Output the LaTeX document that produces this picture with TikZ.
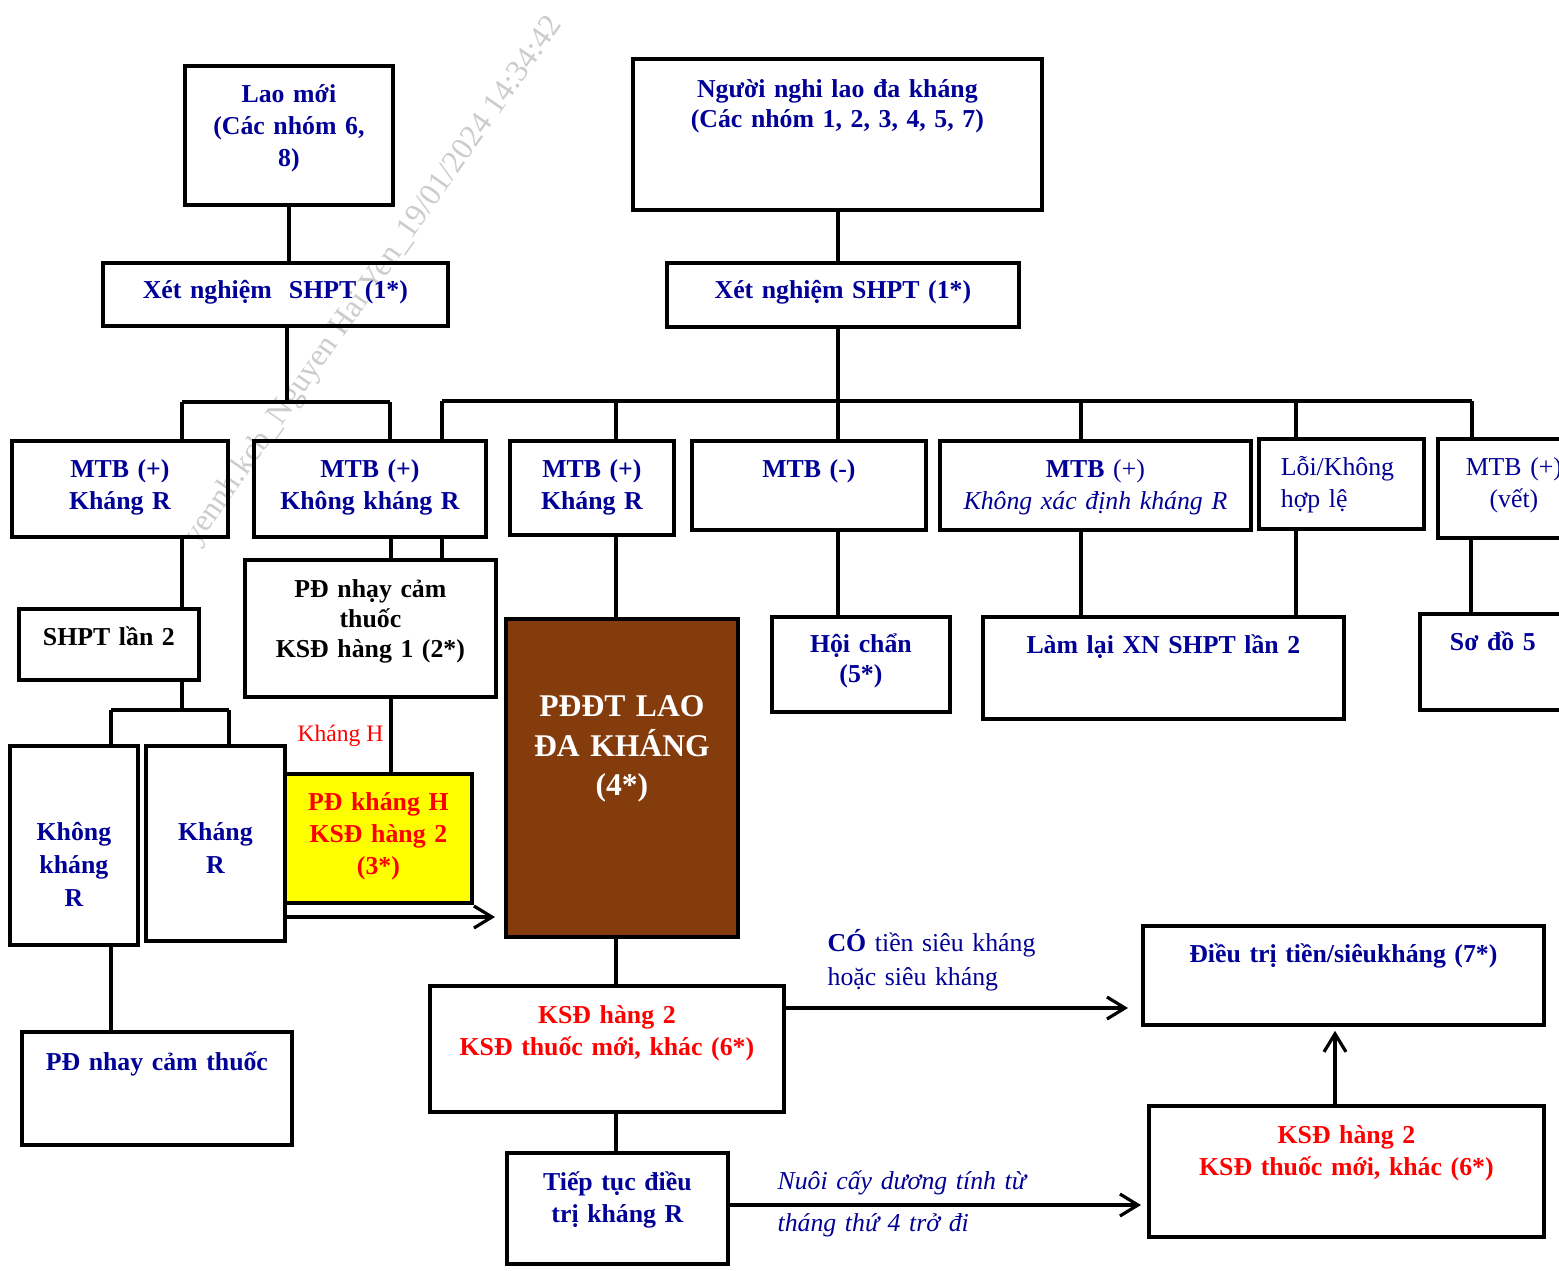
\documentclass[tikz,border=0pt]{standalone}
\usepackage{fontspec}
\setmainfont{Liberation Serif}
\usetikzlibrary{arrows.meta}
\definecolor{lhblue}{RGB}{0,0,150}
\definecolor{lhred}{RGB}{255,0,0}
\definecolor{lhbrown}{RGB}{132,60,12}
\definecolor{lhyellow}{RGB}{255,255,0}

\begin{document}
\begin{tikzpicture}[x=0.5pt, y=-0.5pt, line width=1.6pt, >={Straight Barb[length=9pt, width=11pt]}, box/.style={draw, line width=1.9pt, inner sep=0pt, anchor=north west, align=center, text=lhblue, font=\fontsize{12.9}{15.8}\selectfont\bfseries}, boxsize/.style n args={3}{text width=#1, text height=#2, text depth=#3}, note/.style={inner sep=0pt, anchor=base west, align=left, text=lhblue}]
	\useasboundingbox (0,0) rectangle (1559,1270);
	\node[text=black!20, rotate=55, font=\fontsize{15.8}{16}\selectfont] (wm) at (374,281) {yennh.kcb\_Nguyen Hai Yen\_19/01/2024 14:34:42};

	\node[box, boxsize={104pt}{18.5pt}{51pt}] (lao) at (183,64) {Lao mới\\(Các nhóm 6,\\8)};
	\node[box, boxsize={204.5pt}{19.5pt}{56pt}, font=\fontsize{12.9}{15}\selectfont\bfseries] (nghi) at (631,57) {Người nghi lao đa kháng\\(Các nhóm 1, 2, 3, 4, 5, 7)};
	\node[box, boxsize={172.5pt}{18pt}{13.5pt}] (xetL) at (101,261) {Xét nghiệm~ SHPT (1*)};
	\node[box, boxsize={176pt}{18pt}{14pt}] (xetR) at (665,261) {Xét nghiệm SHPT (1*)};
	\node[box, boxsize={108pt}{18.5pt}{29.5pt}] (mtbA) at (10,439) {MTB (+)\\Kháng R};
	\node[box, boxsize={116pt}{18.5pt}{29.5pt}] (mtbB) at (252,439) {MTB (+)\\Không kháng R};
	\node[box, boxsize={82pt}{18.5pt}{28.5pt}] (mtbC) at (508,439) {MTB (+)\\Kháng R};
	\node[box, boxsize={117pt}{18.5pt}{26pt}] (mtbN) at (690,439) {MTB (-)};
	\node[box, boxsize={155.5pt}{18.5pt}{26pt}] (mtbX) at (938,439) {MTB \mdseries(+)\\\itshape Không xác định kháng R};
	\node[box, boxsize={82.5pt}{18.5pt}{26.5pt}, align=left, font=\fontsize{12.9}{15.8}\selectfont] (loi) at (1257,437) {\hspace*{11pt}Lỗi/Không\\\hspace*{11pt}hợp lệ};
	\node[box, boxsize={76pt}{18.5pt}{31pt}, font=\fontsize{12.9}{15.8}\selectfont] (mtbV) at (1436,437) {MTB (+)\\(vết)};
	\node[box, boxsize={90pt}{18.5pt}{17pt}, text=black] (shpt2) at (17,607) {SHPT lần 2};
	\node[box, boxsize={125.5pt}{19pt}{49.5pt}, text=black, font=\fontsize{12.9}{15}\selectfont\bfseries] (pdnc) at (243,558) {PĐ nhạy cảm\\thuốc\\KSĐ hàng 1 (2*)};
	\node[box, boxsize={93.5pt}{18.5pt}{46pt}, fill=lhyellow, text=lhred] (pdh) at (283,772) {PĐ kháng H\\KSĐ hàng 2\\(3*)};
	\node[box, boxsize={64pt}{47.5pt}{52pt}, font=\fontsize{12.9}{16.5}\selectfont\bfseries] (kkR) at (8,744) {Không\\kháng\\R};
	\node[box, boxsize={69.5pt}{47.5pt}{50pt}, font=\fontsize{12.9}{16.5}\selectfont\bfseries] (kR) at (144,744) {Kháng\\R};
	\node[box, boxsize={116pt}{49pt}{110pt}, fill=lhbrown, text=white, font=\fontsize{15.8}{19.75}\selectfont\bfseries] (pddt) at (504,617) {PĐĐT LAO\\ĐA KHÁNG\\(4*)};
	\node[box, boxsize={89pt}{18pt}{29.5pt}, font=\fontsize{12.9}{15}\selectfont\bfseries] (hoi) at (770,615) {Hội chẩn\\(5*)};
	\node[box, boxsize={180.5pt}{18.5pt}{32.5pt}] (lamlai) at (981,615) {Làm lại XN SHPT lần 2};
	\node[box, boxsize={73pt}{18.5pt}{29.5pt}] (sodo) at (1418,612) {Sơ đồ 5};
	\node[box, boxsize={135pt}{19.5pt}{37pt}] (pdnc2) at (20,1030) {PĐ nhay cảm thuốc};
	\node[box, boxsize={177pt}{19pt}{44pt}, text=lhred] (ksdA) at (428,984) {KSĐ hàng 2\\KSĐ thuốc mới, khác (6*)};
	\node[box, boxsize={200.5pt}{18.5pt}{31pt}] (dieutri) at (1141,924) {Điều trị tiền/siêukháng (7*)};
	\node[box, boxsize={110.5pt}{19pt}{36.5pt}] (tieptuc) at (505,1151) {Tiếp tục điều\\trị kháng R};
	\node[box, boxsize={197.5pt}{19pt}{46.5pt}, text=lhred] (ksdB) at (1147,1104) {KSĐ hàng 2\\KSĐ thuốc mới, khác (6*)};
	\node[note, text width=130pt, font=\fontsize{12.9}{17}\selectfont] (tien) at (826,951) {\textbf{CÓ} tiền siêu kháng\\hoặc siêu kháng};
	\node[note, text width=150pt, font=\fontsize{12.9}{21}\selectfont\itshape] (nuoi) at (776,1189) {Nuôi cấy dương tính từ\\tháng thứ 4 trở đi};

	\coordinate (jL) at (287,402);
	\coordinate (jLa) at (182,402);
	\coordinate (jLb) at (390,402);
	\coordinate (jR) at (838,401);
	\coordinate (jRa) at (442,401);
	\coordinate (jRb) at (1472,401);
	\coordinate (jS) at (182,710);
	\coordinate (jSa) at (111,710);
	\coordinate (jSb) at (229,710);
	\coordinate (xH) at (391,0);
	\coordinate (xM) at (616,0);
	\coordinate (xT) at (1335,0);
	\coordinate (yK) at (0,917);
	\coordinate (yC) at (0,1008);
	\coordinate (yN) at (0,1205);

	\draw (lao.south) -- (lao.south |- xetL.north);
	\draw (xetL.south -| jL) -- (jL);
	\draw (jLa) -- (jLb);
	\draw (jLa) -- (jLa |- mtbA.north);
	\draw (jLb) -- (jLb |- mtbB.north);
	\draw (nghi.south -| jR) -- (xetR.north -| jR);
	\draw (xetR.south -| jR) -- (mtbN.north -| jR);
	\draw (jRa) -- (jRb);
	\foreach \n/\x in {mtbB/442, mtbC/616, mtbX/1081, loi/1296, mtbV/1472}
		{\coordinate (top) at (\x,401); \draw (top) -- (top |- \n.north);}
	\foreach \a/\b/\x in {mtbX/lamlai/1081, loi/lamlai/1296, mtbV/sodo/1471}
		{\coordinate (col) at (\x,0); \draw (\a.south -| col) -- (\b.north -| col);}
	\draw (mtbA.south -| jLa) -- (shpt2.north -| jLa);
	\draw (shpt2.south -| jS) -- (jS);
	\draw (jSa) -- (jSb);
	\draw (jSa) -- (jSa |- kkR.north);
	\draw (jSb) -- (jSb |- kR.north);
	\draw (kkR.south -| jSa) -- (pdnc2.north -| jSa);
	\draw (mtbB.south -| xH) -- (pdnc.north -| xH);
	\draw (mtbB.south -| jRa) -- (pdnc.north -| jRa);
	\draw (pdnc.south -| xH) -- node[left, inner sep=3pt, text=lhred, font=\fontsize{11.8}{12}\selectfont] (khangH) {Kháng H} (pdh.north -| xH);
	\draw[->, shorten >=4.5pt] (kR.east |- yK) -- (pddt.west |- yK);
	\draw (mtbC.south -| xM) -- (pddt.north -| xM);
	\draw (pddt.south -| xM) -- (ksdA.north -| xM);
	\draw (ksdA.south -| xM) -- (tieptuc.north -| xM);
	\draw (mtbN.south -| jR) -- (hoi.north -| jR);
	\draw[->, shorten >=6.5pt] (ksdA.east |- yC) -- (dieutri.west |- yC);
	\draw[->, shorten >=3pt] (tieptuc.east |- yN) -- (ksdB.west |- yN);
	\draw[->, shorten >=2pt] (ksdB.north -| xT) -- (dieutri.south -| xT);
\end{tikzpicture}
\end{document}
